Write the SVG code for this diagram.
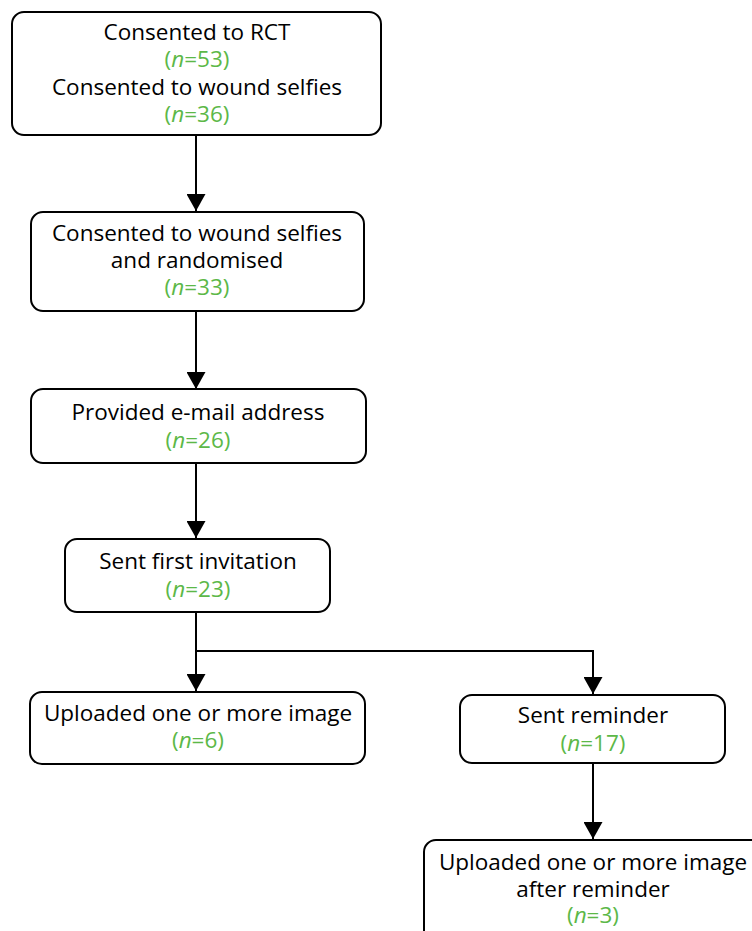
<svg xmlns="http://www.w3.org/2000/svg" width="752" height="931" viewBox="0 0 752 931">
<style>
.box{fill:#fff;stroke:#000;stroke-width:2}
.t{font-family:"Open Sans","Liberation Sans",Arial,sans-serif;font-size:22.5px;fill:#000;text-anchor:middle}
.g{fill:#5cb848}
.i{font-style:italic}
.c{stroke:#000;stroke-width:2;fill:none}
</style>
<defs>
<marker id="ah" markerWidth="17" markerHeight="19" viewBox="0 0 17 19" refX="17" refY="9.5" orient="auto" markerUnits="userSpaceOnUse">
<path d="M0,0 L17,9.5 L0,19 Z" fill="#000"/>
</marker>
</defs>
<rect width="752" height="931" fill="#fff"/>
<g id="connectors">
<path class="c" d="M196,135 V211" marker-end="url(#ah)"/>
<path class="c" d="M196,311 V389" marker-end="url(#ah)"/>
<path class="c" d="M196,463 V538" marker-end="url(#ah)"/>
<path class="c" d="M196,612 V691" marker-end="url(#ah)"/>
<path class="c" d="M196,651 H593 V694" marker-end="url(#ah)"/>
<path class="c" d="M593,763 V839" marker-end="url(#ah)"/>
</g>
<g id="n1">
<rect class="box" x="12" y="12" width="369" height="123" rx="12"/>
<text class="t" x="197" y="40">Consented to RCT</text>
<text class="t g" x="197" y="67">(<tspan class="i">n</tspan>=53)</text>
<text class="t" x="197" y="95">Consented to wound selfies</text>
<text class="t g" x="197" y="122">(<tspan class="i">n</tspan>=36)</text>
</g>
<g id="n2">
<rect class="box" x="31" y="212" width="333" height="99" rx="12"/>
<text class="t" x="197" y="241">Consented to wound selfies</text>
<text class="t" x="197" y="268">and randomised</text>
<text class="t g" x="197" y="295">(<tspan class="i">n</tspan>=33)</text>
</g>
<g id="n3">
<rect class="box" x="31" y="389" width="335" height="74" rx="12"/>
<text class="t" x="198" y="420">Provided e-mail address</text>
<text class="t g" x="198" y="448">(<tspan class="i">n</tspan>=26)</text>
</g>
<g id="n4">
<rect class="box" x="65" y="539" width="265" height="73" rx="12"/>
<text class="t" x="198" y="569">Sent first invitation</text>
<text class="t g" x="198" y="597">(<tspan class="i">n</tspan>=23)</text>
</g>
<g id="n5">
<rect class="box" x="30" y="692" width="335" height="72" rx="12"/>
<text class="t" x="198" y="721">Uploaded one or more image</text>
<text class="t g" x="198" y="748">(<tspan class="i">n</tspan>=6)</text>
</g>
<g id="n6">
<rect class="box" x="460" y="695" width="265" height="68" rx="12"/>
<text class="t" x="593" y="723">Sent reminder</text>
<text class="t g" x="593" y="751">(<tspan class="i">n</tspan>=17)</text>
</g>
<g id="n7">
<rect class="box" x="424" y="840" width="340" height="110" rx="12"/>
<text class="t" x="593" y="870">Uploaded one or more image</text>
<text class="t" x="593" y="897">after reminder</text>
<text class="t g" x="593" y="923">(<tspan class="i">n</tspan>=3)</text>
</g>
</svg>
